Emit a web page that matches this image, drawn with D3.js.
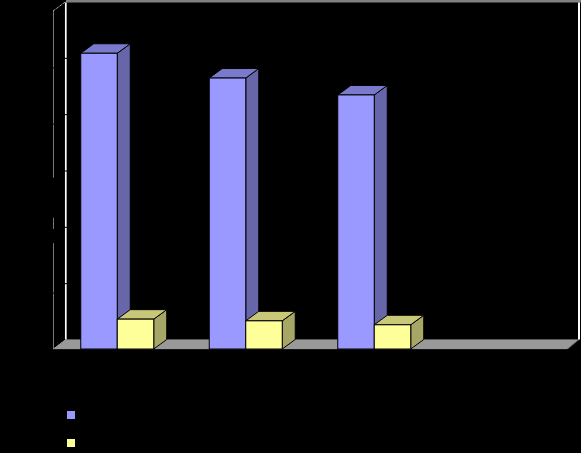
<!DOCTYPE html>
<html><head><meta charset="utf-8">
<script src="https://cdn.jsdelivr.net/npm/d3@7"></script>
<style>html,body{margin:0;padding:0;background:#000}svg{display:block}</style>
</head><body><svg id="c" width="581" height="453"></svg>
<script>
// Category labels and the legend text are black on black in the source, so they cannot be read.
const categories = [0, 1, 2, 3];          // fourth slot is empty in the picture
const seriesA = [52.5, 48.1, 45.1];
const seriesB = [5.3, 5.0, 4.3];
const tickValues = [10, 20, 30, 40, 50, 60];
const wallSegments = [[0, 18.8], [21.3, 23.3], [30.4, 60]];

const W = 581, H = 453;
const plotLeft = 53, plotRight = 567, plotBottom = 349, plotTop = 11, dx = 13, dy = -9.5;
const svg = d3.select("#c");
const x = d3.scaleBand().domain(categories).range([plotLeft, plotRight]).paddingInner(0.432).paddingOuter(0.216);
const y = d3.scaleLinear().domain([0, 60]).range([plotBottom, plotTop]);
const inner = d3.scaleBand().domain([0, 1]).range([0, x.bandwidth()]);
const line = d3.line();

svg.append("rect").attr("width", W).attr("height", H).attr("fill", "#000");

// floor
svg.append("path").attr("fill", "#999").attr("stroke", "#5a5a5a").attr("stroke-width", 1)
  .attr("d", line([[plotLeft, plotBottom + 0.5], [plotLeft + dx, plotBottom + dy], [plotRight + dx - 1, plotBottom + dy], [plotRight, plotBottom + 0.5]]) + "Z");
svg.append("rect").attr("x", plotLeft - 2).attr("y", plotBottom + 0.5).attr("width", W).attr("height", 4).attr("fill", "#000");

// back wall
svg.append("path").attr("fill", "none").attr("stroke", "#808080").attr("stroke-width", 2.4)
  .attr("d", line([[plotLeft + dx, y(60) + dy - 0.3], [W, y(60) + dy - 0.3]]));
svg.append("path").attr("fill", "none").attr("stroke", "#fff").attr("stroke-width", 1.7)
  .attr("d", line([[plotLeft + dx - 0.2, y(60) + dy + 1], [plotLeft + dx - 0.2, plotBottom + dy]]));
svg.append("path").attr("fill", "none").attr("stroke", "#fff").attr("stroke-width", 2)
  .attr("d", line([[579, y(60) + dy + 1], [579, plotBottom + dy]]));
// side wall
svg.append("g").selectAll("path").data(wallSegments).join("path")
  .attr("fill", "none").attr("stroke", "#777").attr("stroke-width", 1)
  .attr("d", d => line([[plotLeft + 0.5, y(d[0])], [plotLeft + 0.5, y(d[1])]]));
svg.append("path").attr("fill", "none").attr("stroke", "#aaa").attr("stroke-width", 1)
  .attr("stroke-dasharray", "3 1")
  .attr("d", line([[plotLeft, y(60)], [plotLeft + dx, y(60) + dy]]));
svg.append("path").attr("fill", "none").attr("stroke", "#aaa").attr("stroke-width", 1)
  .attr("d", line([[plotLeft + 0.5, plotBottom], [plotLeft + dx, plotBottom + dy]]));

// axis ticks, black on the wall lines
const tickAxis = d3.axisRight(y).tickValues(tickValues.slice(0, -1)).tickSize(4).tickFormat("");
const gBack = svg.append("g").attr("transform", `translate(${plotLeft + dx - 2},${dy})`).call(tickAxis);
gBack.select(".domain").remove();
gBack.selectAll("line").attr("stroke", "#000");
const gFront = svg.append("g").attr("transform", `translate(${plotLeft - 1},0)`).call(tickAxis);
gFront.select(".domain").remove();
gFront.selectAll("line").attr("stroke", "#000");

function bar(g, x0, w, v, c) {
  const t = y(v);
  const x1 = x0 + w;
  g.append("path").attr("fill", c[2]).attr("stroke", "#000").attr("stroke-linejoin", "round")
    .attr("d", line([[x1, t], [x1 + dx, t + dy], [x1 + dx, plotBottom + dy], [x1, plotBottom]]) + "Z");
  g.append("path").attr("fill", c[1]).attr("stroke", "#000").attr("stroke-linejoin", "round")
    .attr("d", line([[x0, t], [x0 + dx, t + dy], [x1 + dx, t + dy], [x1, t]]) + "Z");
  g.append("rect").attr("x", x0).attr("y", t).attr("width", w).attr("height", plotBottom - t)
    .attr("fill", c[0]).attr("stroke", "#000");
}
const blue = ["#9999ff", "#7a7acc", "#6666a8"];
const yellow = ["#ffff99", "#c8c878", "#a6a666"];
const gBars = svg.append("g");
seriesA.forEach((v, i) => {
  bar(gBars, x(categories[i]) + inner(0), inner.bandwidth(), v, blue);
  bar(gBars, x(categories[i]) + inner(1), inner.bandwidth(), seriesB[i], yellow);
});
svg.append("rect").attr("x", 0).attr("y", plotBottom + 0.5).attr("width", W).attr("height", 3).attr("fill", "#000");

// legend swatches
const legendY = d3.scalePoint().domain([0, 1]).range([411, 439]);
svg.append("g").selectAll("rect").data([blue[0], yellow[0]]).join("rect")
  .attr("x", 67).attr("y", (d, i) => legendY(i)).attr("width", 8).attr("height", 8).attr("fill", d => d);
</script></body></html>
